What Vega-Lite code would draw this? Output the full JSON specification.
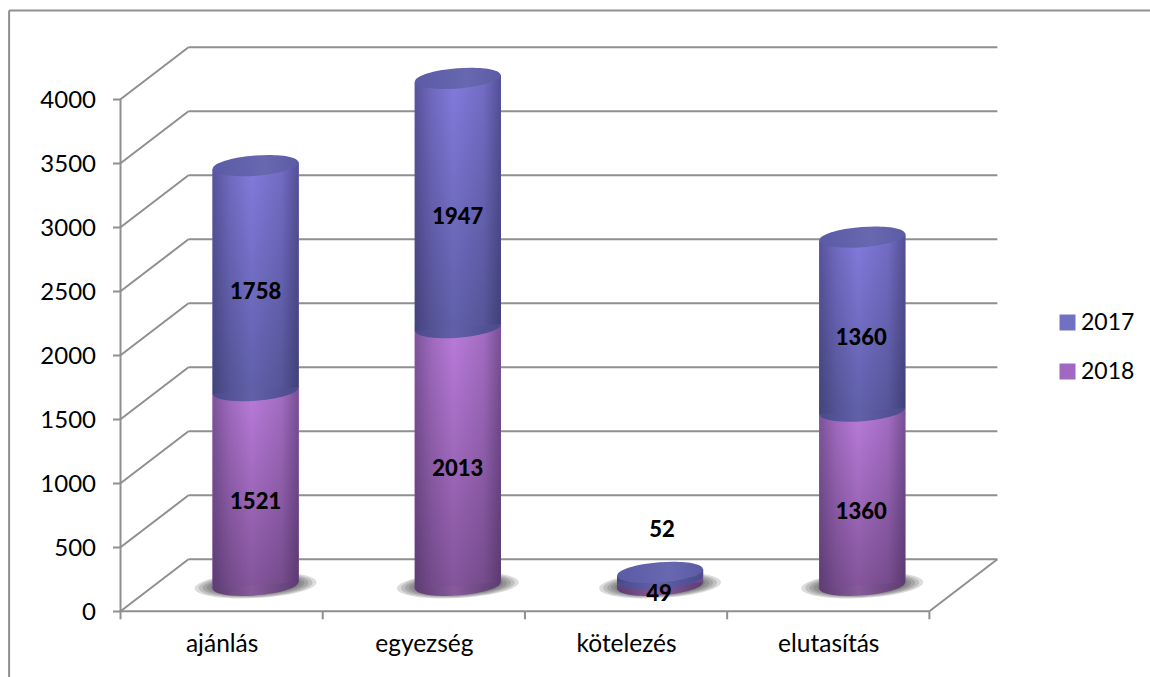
{"$schema":"https://vega.github.io/schema/vega-lite/v6.json","width":1150,"height":677,"padding":0,"autosize":"none","background":"white","config":{"view":{"stroke":null},"font":"Lato"},
"datasets":{
"frame":[{"a":-0.551,"b":5.091,"u":4694,"v":4694},{"a":-0.551,"b":-0.551,"u":4694,"v":-513}],
"grid":[{"value":0,"from":0,"to":4},{"value":500,"from":0,"to":4},{"value":1000,"from":0,"to":4},{"value":1500,"from":0,"to":4},{"value":2000,"from":0,"to":4},{"value":2500,"from":0,"to":4},{"value":3000,"from":0,"to":4},{"value":3500,"from":0,"to":4},{"value":4000,"from":0,"to":4}],
"walls":[{"a":0,"b":4,"u":0,"v":0},{"a":0,"b":0,"u":0,"v":4000}],
"ticks":[{"tick":0,"base":0},{"tick":1,"base":0},{"tick":2,"base":0},{"tick":3,"base":0},{"tick":4,"base":0}],
"seg":[
{"category":"ajánlás","pos":0.5,"year":"2018","value":1521,"start":0,"end":1521,"labelPos":0.5,"labelY":862},
{"category":"egyezség","pos":1.5,"year":"2018","value":2013,"start":0,"end":2013,"labelPos":1.5,"labelY":1120},
{"category":"kötelezés","pos":2.5,"year":"2018","value":49,"start":0,"end":49,"labelPos":2.495,"labelY":143},
{"category":"elutasítás","pos":3.5,"year":"2018","value":1360,"start":0,"end":1360,"labelPos":3.495,"labelY":791},
{"category":"ajánlás","pos":0.5,"year":"2017","value":1758,"start":1521,"end":3279,"labelPos":0.5,"labelY":2510},
{"category":"egyezség","pos":1.5,"year":"2017","value":1947,"start":2013,"end":3960,"labelPos":1.5,"labelY":3096},
{"category":"kötelezés","pos":2.5,"year":"2017","value":52,"start":49,"end":101,"labelPos":2.51,"labelY":643},
{"category":"elutasítás","pos":3.5,"year":"2017","value":1360,"start":1360,"end":2720,"labelPos":3.495,"labelY":2143}
],
"shell":[
{"id":"a18","year":"2018","edge":0.287,"lower":-26,"upper":1495},{"id":"a18","year":"2018","edge":0.713,"lower":26,"upper":1547},
{"id":"e18","year":"2018","edge":1.287,"lower":-26,"upper":1987},{"id":"e18","year":"2018","edge":1.713,"lower":26,"upper":2039},
{"id":"k18","year":"2018","edge":2.287,"lower":-26,"upper":23},{"id":"k18","year":"2018","edge":2.713,"lower":26,"upper":75},
{"id":"u18","year":"2018","edge":3.287,"lower":-26,"upper":1334},{"id":"u18","year":"2018","edge":3.713,"lower":26,"upper":1386},
{"id":"a17","year":"2017","edge":0.287,"lower":1495,"upper":3253},{"id":"a17","year":"2017","edge":0.713,"lower":1547,"upper":3305},
{"id":"e17","year":"2017","edge":1.287,"lower":1987,"upper":3934},{"id":"e17","year":"2017","edge":1.713,"lower":2039,"upper":3986},
{"id":"k17","year":"2017","edge":2.287,"lower":23,"upper":75},{"id":"k17","year":"2017","edge":2.713,"lower":75,"upper":127},
{"id":"u17","year":"2017","edge":3.287,"lower":1334,"upper":2694},{"id":"u17","year":"2017","edge":3.713,"lower":1386,"upper":2746}
]},
"layer":[
{"data":{"name":"frame"},"mark":{"type":"rule","color":"#8f8f8f","strokeWidth":2},"encoding":{
"x":{"field":"a","type":"quantitative","scale":{"domain":[-0.596,5.091],"range":[0,1150],"nice":false,"zero":false,"padding":0}},"x2":{"field":"b"},
"y":{"field":"u","type":"quantitative","scale":{"domain":[-513.3,4775.8],"range":[677,0],"nice":false,"zero":false}},"y2":{"field":"v"}}},
{"data":{"name":"grid"},"mark":{"type":"rule","color":"#8f8f8f","strokeWidth":2,"xOffset":68,"x2Offset":68,"yOffset":-52},"encoding":{
"x":{"field":"from","type":"quantitative","scale":{"domain":[-0.596,5.091],"range":[0,1150],"nice":false,"zero":false,"padding":0},"axis":{"values":[0.5,1.5,2.5,3.5],"orient":"bottom","offset":-65.7,"domain":false,"ticks":false,"grid":false,"title":null,"labelExpr":"['ajánlás','egyezség','kötelezés','elutasítás'][floor(datum.value)]","labelFontSize":24.5,"labelColor":"#000000","labelPadding":33.5,"labelBaseline":"middle","labelFlush":false,"labelOverlap":false}},"x2":{"field":"to"},
"y":{"field":"value","type":"quantitative","scale":{"domain":[-513.3,4775.8],"range":[677,0],"nice":false,"zero":false},"axis":{"values":[0,500,1000,1500,2000,2500,3000,3500,4000],"orient":"left","offset":-120.5,"domain":false,"grid":false,"title":null,"tickSize":8,"tickWidth":2,"tickColor":"#8f8f8f","labelFontSize":24,"labelColor":"#000000","labelPadding":17,"labelOffset":1,"format":"d","labelOverlap":false,"labelFlush":false}}}},
{"data":{"name":"grid"},"mark":{"type":"rule","color":"#8f8f8f","strokeWidth":2,"x2Offset":68,"y2Offset":-52},"encoding":{
"x":{"field":"from","type":"quantitative","scale":{"domain":[-0.596,5.091],"range":[0,1150],"nice":false,"zero":false,"padding":0}},"x2":{"field":"from"},
"y":{"field":"value","type":"quantitative","scale":{"domain":[-513.3,4775.8],"range":[677,0],"nice":false,"zero":false}},"y2":{"field":"value"}}},
{"data":{"name":"walls"},"mark":{"type":"rule","color":"#8f8f8f","strokeWidth":2},"encoding":{
"x":{"field":"a","type":"quantitative","scale":{"domain":[-0.596,5.091],"range":[0,1150],"nice":false,"zero":false,"padding":0}},"x2":{"field":"b"},
"y":{"field":"u","type":"quantitative","scale":{"domain":[-513.3,4775.8],"range":[677,0],"nice":false,"zero":false}},"y2":{"field":"v"}}},
{"data":{"values":[{"to":4,"value":0}]},"mark":{"type":"rule","color":"#8f8f8f","strokeWidth":2,"x2Offset":68,"y2Offset":-52},"encoding":{
"x":{"field":"to","type":"quantitative","scale":{"domain":[-0.596,5.091],"range":[0,1150],"nice":false,"zero":false,"padding":0}},"x2":{"field":"to"},
"y":{"field":"value","type":"quantitative","scale":{"domain":[-513.3,4775.8],"range":[677,0],"nice":false,"zero":false}},"y2":{"field":"value"}}},
{"data":{"name":"ticks"},"mark":{"type":"rule","color":"#8f8f8f","strokeWidth":2,"y2Offset":8},"encoding":{
"x":{"field":"tick","type":"quantitative","scale":{"domain":[-0.596,5.091],"range":[0,1150],"nice":false,"zero":false,"padding":0}},"x2":{"field":"tick"},
"y":{"field":"base","type":"quantitative","scale":{"domain":[-513.3,4775.8],"range":[677,0],"nice":false,"zero":false}},"y2":{"field":"base"}}},
{"data":{"name":"seg"},"transform":[{"filter":"datum.year=='2018'"}],"mark":{"type":"point","filled":true,"shape":"M-1,0A1,0.21,0,1,1,1,0A1,0.21,0,1,1,-1,0Z","angle":-3,"size":14884,"xOffset":34,"yOffset":-26,"opacity":0.17,"fill":"#303030"},"encoding":{
"x":{"field":"pos","type":"quantitative","scale":{"domain":[-0.596,5.091],"range":[0,1150],"nice":false,"zero":false,"padding":0}},
"y":{"field":"start","type":"quantitative","scale":{"domain":[-513.3,4775.8],"range":[677,0],"nice":false,"zero":false}}}},
{"data":{"name":"seg"},"transform":[{"filter":"datum.year=='2018'"}],"mark":{"type":"point","filled":true,"shape":"M-1,0A1,0.21,0,1,1,1,0A1,0.21,0,1,1,-1,0Z","angle":-3,"size":12996,"xOffset":34,"yOffset":-26,"opacity":0.17,"fill":"#303030"},"encoding":{
"x":{"field":"pos","type":"quantitative","scale":{"domain":[-0.596,5.091],"range":[0,1150],"nice":false,"zero":false,"padding":0}},
"y":{"field":"start","type":"quantitative","scale":{"domain":[-513.3,4775.8],"range":[677,0],"nice":false,"zero":false}}}},
{"data":{"name":"seg"},"transform":[{"filter":"datum.year=='2018'"}],"mark":{"type":"point","filled":true,"shape":"M-1,0A1,0.21,0,1,1,1,0A1,0.21,0,1,1,-1,0Z","angle":-3,"size":11236,"xOffset":34,"yOffset":-26,"opacity":0.17,"fill":"#303030"},"encoding":{
"x":{"field":"pos","type":"quantitative","scale":{"domain":[-0.596,5.091],"range":[0,1150],"nice":false,"zero":false,"padding":0}},
"y":{"field":"start","type":"quantitative","scale":{"domain":[-513.3,4775.8],"range":[677,0],"nice":false,"zero":false}}}},
{"data":{"name":"seg"},"transform":[{"filter":"datum.year=='2018'"}],"mark":{"type":"point","filled":true,"shape":"M-1,0A1,0.21,0,1,1,1,0A1,0.21,0,1,1,-1,0Z","angle":-3,"size":9604,"xOffset":34,"yOffset":-26,"opacity":0.17,"fill":"#303030"},"encoding":{
"x":{"field":"pos","type":"quantitative","scale":{"domain":[-0.596,5.091],"range":[0,1150],"nice":false,"zero":false,"padding":0}},
"y":{"field":"start","type":"quantitative","scale":{"domain":[-513.3,4775.8],"range":[677,0],"nice":false,"zero":false}}}},
{"data":{"name":"seg"},"transform":[{"filter":"datum.year=='2018'"}],"mark":{"type":"point","filled":true,"shape":"M-1,0A1,0.21,0,1,1,1,0A1,0.21,0,1,1,-1,0Z","angle":-3,"size":8100,"xOffset":34,"yOffset":-26,"opacity":0.17,"fill":"#303030"},"encoding":{
"x":{"field":"pos","type":"quantitative","scale":{"domain":[-0.596,5.091],"range":[0,1150],"nice":false,"zero":false,"padding":0}},
"y":{"field":"start","type":"quantitative","scale":{"domain":[-513.3,4775.8],"range":[677,0],"nice":false,"zero":false}}}},
{"data":{"name":"shell"},"mark":{"type":"area","xOffset":34,"yOffset":-26,"y2Offset":-26},"encoding":{
"x":{"field":"edge","type":"quantitative","scale":{"domain":[-0.596,5.091],"range":[0,1150],"nice":false,"zero":false,"padding":0}},
"y":{"field":"lower","type":"quantitative","stack":null,"scale":{"domain":[-513.3,4775.8],"range":[677,0],"nice":false,"zero":false}},"y2":{"field":"upper"},"detail":{"field":"id"},
"color":{"field":"year","type":"nominal","scale":{"domain":["2017","2018"],"range":["#7270c2","#a068c0"]},"legend":{"orient":"none","legendX":1056,"legendY":311,"title":null,"symbolType":"square","symbolSize":256,"symbolStrokeWidth":0,"labelFontSize":23,"labelColor":"#000000","labelOffset":2,"rowPadding":25,"columns":1,"encoding":{"symbols":{"fill":{"condition":{"test":"datum.value=='2017'","value":{"gradient":"linear","x1":0,"y1":0,"x2":0,"y2":1,"stops":[{"offset":0,"color":"#7f7cd0"},{"offset":1,"color":"#5f5fa4"}]}},"value":{"gradient":"linear","x1":0,"y1":0,"x2":0,"y2":1,"stops":[{"offset":0,"color":"#b473d2"},{"offset":1,"color":"#8a5a9c"}]}}}}}}}},
{"data":{"name":"seg"},"transform":[{"filter":"datum.year=='2018'"}],"mark":{"type":"point","filled":true,"shape":"M-1,0A1,0.235,0,1,1,1,0A1,0.235,0,1,1,-1,0Z","angle":-4.5,"size":7396,"xOffset":34,"yOffset":-26,"opacity":1,"fill":{"gradient":"linear","x1":0,"y1":0,"x2":1,"y2":0,"stops":[{"offset":0,"color":"#5c3d70"},{"offset":0.45,"color":"#875a9c"},{"offset":1,"color":"#5c3d70"}]}},"encoding":{
"x":{"field":"pos","type":"quantitative","scale":{"domain":[-0.596,5.091],"range":[0,1150],"nice":false,"zero":false,"padding":0}},
"y":{"field":"start","type":"quantitative","scale":{"domain":[-513.3,4775.8],"range":[677,0],"nice":false,"zero":false}}}},
{"data":{"name":"shell"},"transform":[{"filter":"datum.year=='2018'"}],"mark":{"type":"area","xOffset":34,"yOffset":-26,"y2Offset":-26,"fill":{"gradient":"linear","x1":0,"y1":0,"x2":0,"y2":1,"stops":[{"offset":0,"color":"#ba7cdc"},{"offset":1,"color":"#83549a"}]}},"encoding":{
"x":{"field":"edge","type":"quantitative","scale":{"domain":[-0.596,5.091],"range":[0,1150],"nice":false,"zero":false,"padding":0}},
"y":{"field":"lower","type":"quantitative","stack":null,"scale":{"domain":[-513.3,4775.8],"range":[677,0],"nice":false,"zero":false}},"y2":{"field":"upper"},"detail":{"field":"id"}}},
{"data":{"name":"shell"},"transform":[{"filter":"datum.year=='2018'"}],"mark":{"type":"area","xOffset":34,"yOffset":-26,"y2Offset":-26,"fill":{"gradient":"linear","x1":0,"y1":0,"x2":1,"y2":0,"stops":[{"offset":0,"color":"rgba(30,20,50,0.38)"},{"offset":0.2,"color":"rgba(30,20,50,0.16)"},{"offset":0.45,"color":"rgba(30,20,50,0)"},{"offset":0.8,"color":"rgba(30,20,50,0.14)"},{"offset":1,"color":"rgba(30,20,50,0.42)"}]}},"encoding":{
"x":{"field":"edge","type":"quantitative","scale":{"domain":[-0.596,5.091],"range":[0,1150],"nice":false,"zero":false,"padding":0}},
"y":{"field":"lower","type":"quantitative","stack":null,"scale":{"domain":[-513.3,4775.8],"range":[677,0],"nice":false,"zero":false}},"y2":{"field":"upper"},"detail":{"field":"id"}}},
{"data":{"name":"seg"},"transform":[{"filter":"datum.year=='2017'"}],"mark":{"type":"point","filled":true,"shape":"M-1,0A1,0.235,0,1,1,1,0A1,0.235,0,1,1,-1,0Z","angle":-4.5,"size":7396,"xOffset":34,"yOffset":-26,"opacity":1,"fill":{"gradient":"linear","x1":0,"y1":0,"x2":1,"y2":0,"stops":[{"offset":0,"color":"#4a4a8c"},{"offset":0.45,"color":"#6260a8"},{"offset":1,"color":"#4a4a8c"}]}},"encoding":{
"x":{"field":"pos","type":"quantitative","scale":{"domain":[-0.596,5.091],"range":[0,1150],"nice":false,"zero":false,"padding":0}},
"y":{"field":"start","type":"quantitative","scale":{"domain":[-513.3,4775.8],"range":[677,0],"nice":false,"zero":false}}}},
{"data":{"name":"shell"},"transform":[{"filter":"datum.year=='2017'"}],"mark":{"type":"area","xOffset":34,"yOffset":-26,"y2Offset":-26,"fill":{"gradient":"linear","x1":0,"y1":0,"x2":0,"y2":1,"stops":[{"offset":0,"color":"#837bdd"},{"offset":1,"color":"#5f5fa8"}]}},"encoding":{
"x":{"field":"edge","type":"quantitative","scale":{"domain":[-0.596,5.091],"range":[0,1150],"nice":false,"zero":false,"padding":0}},
"y":{"field":"lower","type":"quantitative","stack":null,"scale":{"domain":[-513.3,4775.8],"range":[677,0],"nice":false,"zero":false}},"y2":{"field":"upper"},"detail":{"field":"id"}}},
{"data":{"name":"shell"},"transform":[{"filter":"datum.year=='2017'"}],"mark":{"type":"area","xOffset":34,"yOffset":-26,"y2Offset":-26,"fill":{"gradient":"linear","x1":0,"y1":0,"x2":1,"y2":0,"stops":[{"offset":0,"color":"rgba(20,20,50,0.38)"},{"offset":0.2,"color":"rgba(20,20,50,0.16)"},{"offset":0.45,"color":"rgba(20,20,50,0)"},{"offset":0.8,"color":"rgba(20,20,50,0.14)"},{"offset":1,"color":"rgba(20,20,50,0.42)"}]}},"encoding":{
"x":{"field":"edge","type":"quantitative","scale":{"domain":[-0.596,5.091],"range":[0,1150],"nice":false,"zero":false,"padding":0}},
"y":{"field":"lower","type":"quantitative","stack":null,"scale":{"domain":[-513.3,4775.8],"range":[677,0],"nice":false,"zero":false}},"y2":{"field":"upper"},"detail":{"field":"id"}}},
{"data":{"name":"seg"},"transform":[{"filter":"datum.year=='2017'"}],"mark":{"type":"point","filled":true,"shape":"M-1,0A1,0.235,0,1,1,1,0A1,0.235,0,1,1,-1,0Z","angle":-4.5,"size":7396,"xOffset":34,"yOffset":-26,"opacity":1,"fill":{"gradient":"linear","x1":0,"y1":0,"x2":1,"y2":0,"stops":[{"offset":0,"color":"#5a5aa6"},{"offset":0.6,"color":"#6868b0"},{"offset":1,"color":"#5c5ca6"}]}},"encoding":{
"x":{"field":"pos","type":"quantitative","scale":{"domain":[-0.596,5.091],"range":[0,1150],"nice":false,"zero":false,"padding":0}},
"y":{"field":"end","type":"quantitative","scale":{"domain":[-513.3,4775.8],"range":[677,0],"nice":false,"zero":false}}}},
{"data":{"name":"seg"},"mark":{"type":"text","fontWeight":900,"fontSize":22,"color":"#000000","baseline":"middle","align":"center","xOffset":34,"yOffset":1.5},"encoding":{
"x":{"field":"labelPos","type":"quantitative","scale":{"domain":[-0.596,5.091],"range":[0,1150],"nice":false,"zero":false,"padding":0}},
"y":{"field":"labelY","type":"quantitative","scale":{"domain":[-513.3,4775.8],"range":[677,0],"nice":false,"zero":false}},
"text":{"field":"value","type":"quantitative","format":"d"}}}
]}
